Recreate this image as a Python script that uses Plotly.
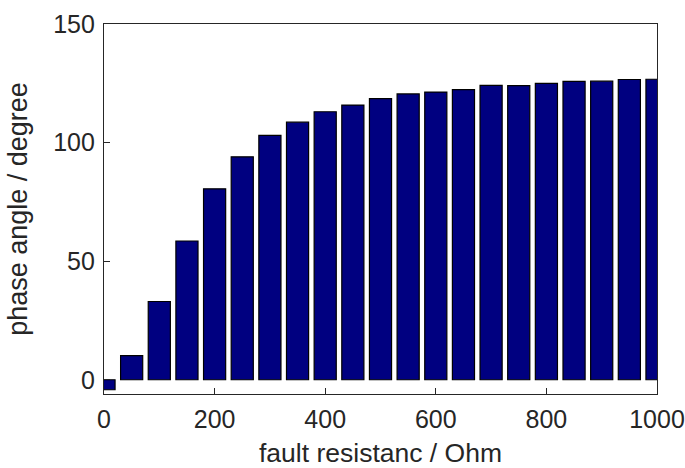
import plotly.graph_objects as go

resistance = [0, 50, 100, 150, 200, 250, 300, 350, 400, 450, 500,
              550, 600, 650, 700, 750, 800, 850, 900, 950, 1000]
phase_angle = [-4.2, 10.2, 33.0, 58.5, 80.5, 94.0, 103.0, 108.6, 113.0, 115.8, 118.5,
               120.5, 121.3, 122.3, 124.1, 124.0, 125.0, 125.8, 125.9, 126.6, 126.7]

x_ticks = [0, 200, 400, 600, 800, 1000]
y_ticks = [0, 50, 100, 150]

font_family = "Liberation Sans, Arial, sans-serif"
ink = "#262626"

fig = go.Figure(
    go.Bar(
        x=resistance,
        y=phase_angle,
        width=40,
        marker=dict(color="#000080", line=dict(color="#000000", width=1.2)),
    )
)

fig.update_layout(
    width=685,
    height=468,
    margin=dict(l=104, r=28, t=24, b=74),
    paper_bgcolor="white",
    plot_bgcolor="white",
    showlegend=False,
    font=dict(family=font_family, size=25, color=ink),
)

fig.update_xaxes(
    range=[0, 1000],
    tickvals=x_ticks,
    ticks="inside",
    ticklen=6,
    tickcolor=ink,
    ticklabelstandoff=3,
    showline=True,
    linecolor=ink,
    linewidth=1.2,
    mirror=True,
    showgrid=False,
    zeroline=False,
    automargin=False,
    title=dict(text="fault resistanc / Ohm", font=dict(size=26.5), standoff=12),
)

fig.update_yaxes(
    range=[-6, 150],
    tickvals=y_ticks,
    ticks="inside",
    ticklen=6,
    tickcolor=ink,
    ticklabelstandoff=3,
    showline=True,
    linecolor=ink,
    linewidth=1.2,
    mirror=True,
    showgrid=False,
    zeroline=False,
    automargin=False,
    title=dict(text="phase angle / degree", font=dict(size=27), standoff=17),
)

fig.write_html("out.html")
